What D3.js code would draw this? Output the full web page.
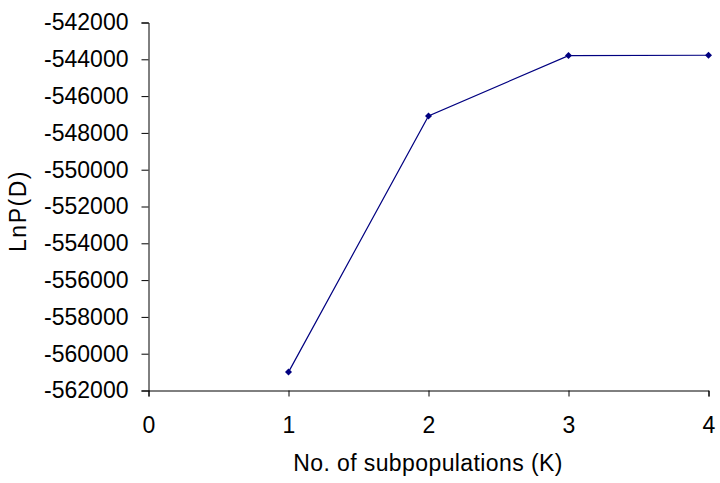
<!DOCTYPE html>
<html>
<head>
<meta charset="utf-8">
<script src="https://cdn.jsdelivr.net/npm/d3@7"></script>
<style>
  body { margin: 0; background: #fff; }
  text { font-family: "Liberation Sans", Arial, sans-serif; fill: #000; }
</style>
</head>
<body>
<svg id="chart" width="720" height="483"></svg>
<script>
// values
const kValues = [1, 2, 3, 4];
const lnP = [-561000, -547080, -543800, -543780];
const xTicks = [0, 1, 2, 3, 4];
const yTicks = d3.range(-562000, -541999, 2000);

const svg = d3.select("#chart");

const x = d3.scaleLinear().domain([0, 4]).range([148.5, 708.5]);
const y = d3.scaleLinear().domain([-562000, -542000]).range([390.5, 22.5]);

// y axis (plain hyphen minus, like the original)
const yAxis = svg.append("g")
    .attr("transform", "translate(148.5,0)")
    .call(d3.axisLeft(y).tickValues(yTicks).tickSize(7).tickPadding(13).tickFormat(d => String(d)));
yAxis.select(".domain").attr("stroke", "#000");
yAxis.selectAll("text").style("font-size", "23px");

// x axis
const xAxis = svg.append("g")
    .attr("transform", "translate(0,390.5)")
    .call(d3.axisBottom(x).tickValues(xTicks).tickSize(6).tickPadding(20).tickFormat(d => String(d)));
xAxis.select(".domain").attr("stroke", "#000");
xAxis.selectAll("text").style("font-size", "23px");

// titles
svg.append("text")
    .attr("x", 428).attr("y", 471)
    .attr("text-anchor", "middle")
    .style("font-size", "23px").style("letter-spacing", "0.4px")
    .text("No. of subpopulations (K)");

svg.append("text")
    .attr("transform", "translate(26,211) rotate(-90)")
    .attr("text-anchor", "middle")
    .style("font-size", "23px").style("letter-spacing", "1.5px")
    .text("LnP(D)");

// series
const pts = kValues.map((k, i) => [k, lnP[i]]);

svg.append("path")
    .datum(pts)
    .attr("fill", "none")
    .attr("stroke", "#000080")
    .attr("stroke-width", 1.2)
    .attr("d", d3.line().x(d => x(d[0])).y(d => y(d[1])));

svg.selectAll(".mk")
    .data(pts)
    .enter().append("path")
    .attr("class", "mk")
    .attr("transform", d => `translate(${x(d[0])},${y(d[1])})`)
    .attr("d", "M0,-3.5L3.5,0L0,3.5L-3.5,0Z")
    .attr("fill", "#000080");
</script>
</body>
</html>
